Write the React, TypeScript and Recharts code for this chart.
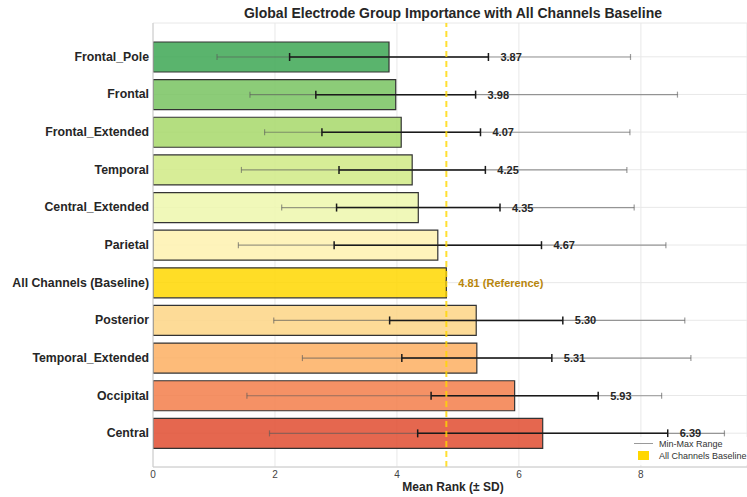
import React from 'react';
import { BarChart, Bar, XAxis, YAxis, CartesianGrid, ReferenceLine, ErrorBar, Cell, LabelList } from 'recharts';

const groups = ['Frontal_Pole', 'Frontal', 'Frontal_Extended', 'Temporal', 'Central_Extended', 'Parietal', 'All Channels (Baseline)', 'Posterior', 'Temporal_Extended', 'Occipital', 'Central'];
const means = [3.87, 3.98, 4.07, 4.25, 4.35, 4.67, 4.81, 5.30, 5.31, 5.93, 6.39];
const sds = [1.63, 1.31, 1.30, 1.20, 1.34, 1.70, 0, 1.42, 1.23, 1.37, 2.05];
const mins = [1.05, 1.59, 1.83, 1.45, 2.11, 1.40, 4.81, 1.98, 2.45, 1.54, 1.91];
const maxs = [7.83, 8.60, 7.82, 7.77, 7.89, 8.41, 4.81, 8.72, 8.82, 8.34, 9.37];
const colors = ['#3da754', '#78c360', '#a7d86a', '#d0ea85', '#edf7ad', '#fef1af', '#FFD700', '#fdd585', '#fdaf61', '#f37e4a', '#e04c30'];
const baselineValue = 4.81;
const xTicks = [0, 2, 4, 6, 8];

const data = groups.map((name, i) => ({
  name,
  mean: means[i],
  sd: sds[i],
  mmErr: [means[i] - mins[i], maxs[i] - means[i]],
  baseline: name === 'All Channels (Baseline)',
}));

const FONT = '"Liberation Sans", Arial, Helvetica, sans-serif';

const ValueLabel = (props: any) => {
  const { x, y, width, height, index } = props;
  const d = data[index];
  if (!d) return null;
  const pxPerUnit = width / d.mean;
  const lx = x + width + d.sd * pxPerUnit + 12;
  const ly = y + height / 2;
  if (d.baseline) {
    return (
      <text x={lx} y={ly} dominantBaseline="central" fontSize={11} fontWeight="bold" fill="#B8860B" fontFamily={FONT}>
        {d.mean.toFixed(2)} (Reference)
      </text>
    );
  }
  return (
    <text x={lx} y={ly} dominantBaseline="central" fontSize={11} fontWeight="bold" fill="#262626" fontFamily={FONT}>
      {d.mean.toFixed(2)}
    </text>
  );
};

const YTick = (props: any) => {
  const { x, y, payload } = props;
  return (
    <text x={x} y={y} textAnchor="end" dominantBaseline="central" fontSize={12.3} fontWeight="bold" fill="#262626" fontFamily={FONT}>
      {payload.value}
    </text>
  );
};

export default function App() {
  return (
    <div style={{ position: 'absolute', left: 0, top: 0, width: 747, height: 497, overflow: 'hidden', background: '#fff', fontFamily: FONT }}>
      <div style={{ position: 'absolute', left: 153, width: 600, top: 5, textAlign: 'center', fontSize: 14, fontWeight: 'bold', color: '#262626', lineHeight: '16px', whiteSpace: 'nowrap' }}>
        Global Electrode Group Importance with All Channels Baseline
      </div>
      <BarChart
        width={747}
        height={497}
        data={data}
        layout="vertical"
        margin={{ top: 23, right: 0, left: 0, bottom: 0 }}
        barCategoryGap={0}
      >
        <CartesianGrid stroke="#e8e8e8" strokeWidth={1} />
        <XAxis
          type="number"
          dataKey="mean"
          domain={[0, 9.74]}
          ticks={xTicks}
          allowDataOverflow
          height={30}
          tickLine={false}
          tickSize={0}
          tickMargin={4}
          axisLine={{ stroke: '#cccccc' }}
          tick={{ fontSize: 10, fill: '#444', fontFamily: FONT }}
        />
        <XAxis
          xAxisId="top"
          orientation="top"
          type="number"
          domain={[0, 9.74]}
          height={0}
          tick={false}
          tickLine={false}
          axisLine={{ stroke: '#dddddd' }}
        />
        <YAxis
          type="category"
          dataKey="name"
          width={153}
          padding={{ top: 15, bottom: 15 }}
          tickLine={false}
          tickSize={0}
          tickMargin={4}
          axisLine={{ stroke: '#cccccc' }}
          tick={<YTick />}
          interval={0}
        />
        <Bar dataKey="mean" barSize={30} fillOpacity={0.85} stroke="#333" strokeWidth={1.2} isAnimationActive={false}>
          {data.map((d, i) => (
            <Cell key={d.name} fill={colors[i]} />
          ))}
          <ErrorBar dataKey="mmErr" direction="x" width={3} stroke="rgba(90,90,90,0.6)" strokeWidth={1.2} isAnimationActive={false} />
          <ErrorBar dataKey="sd" direction="x" width={4} stroke="#1a1a1a" strokeWidth={1.5} isAnimationActive={false} />
          <LabelList dataKey="mean" content={ValueLabel} />
        </Bar>
        <ReferenceLine x={baselineValue} stroke="#FFD700" strokeOpacity={0.8} strokeWidth={2} strokeDasharray="6 4" />
      </BarChart>
      <div style={{ position: 'absolute', left: 153, width: 600, top: 479, textAlign: 'center', fontSize: 12, fontWeight: 'bold', color: '#262626', lineHeight: '16px' }}>
        Mean Rank (± SD)
      </div>
      <div style={{ position: 'absolute', left: 627, top: 437, width: 122, height: 28, background: 'rgba(255,255,255,0.85)' }}>
        <div style={{ position: 'absolute', left: 7, top: 6, width: 19, height: 0, borderTop: '1.5px solid #9a9a9a' }} />
        <div style={{ position: 'absolute', left: 32, top: 3, fontSize: 9, color: '#333', lineHeight: '9px', whiteSpace: 'nowrap' }}>Min-Max Range</div>
        <div style={{ position: 'absolute', left: 11, top: 14, width: 11, height: 9, background: '#FFD700' }} />
        <div style={{ position: 'absolute', left: 32, top: 14, fontSize: 9, color: '#333', lineHeight: '10px', whiteSpace: 'nowrap' }}>All Channels Baseline</div>
      </div>
    </div>
  );
}
